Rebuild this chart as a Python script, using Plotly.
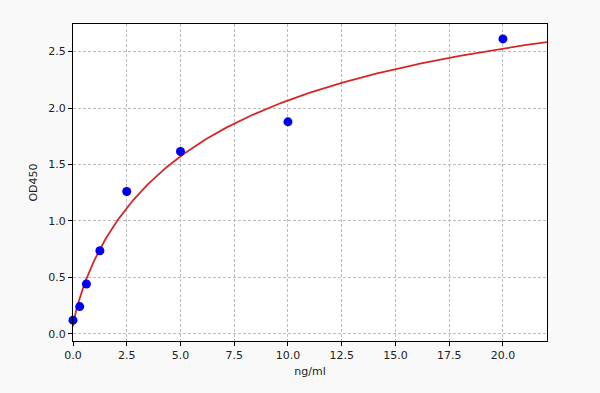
import numpy as np
import plotly.graph_objects as go

conc = [0.0, 0.3125, 0.625, 1.25, 2.5, 5.0, 10.0, 20.0]
od450 = [0.12, 0.24, 0.44, 0.735, 1.26, 1.615, 1.878, 2.613]
x_ticks = [0.0, 2.5, 5.0, 7.5, 10.0, 12.5, 15.0, 17.5, 20.0]
x_tick_labels = ["0.0", "2.5", "5.0", "7.5", "10.0", "12.5", "15.0", "17.5", "20.0"]
y_ticks = [0.0, 0.5, 1.0, 1.5, 2.0, 2.5]
y_tick_labels = ["0.0", "0.5", "1.0", "1.5", "2.0", "2.5"]

# 4-parameter logistic fit (grid search over b, c; linear LSQ for a, d)
xd = np.array(conc)
yd = np.array(od450)
best = None
for b in np.linspace(0.4, 1.6, 121):
    for c in np.linspace(0.5, 30, 296):
        g = xd**b / (c**b + xd**b)
        A = np.vstack([np.ones_like(g), g]).T
        coef, *_ = np.linalg.lstsq(A, yd, rcond=None)
        r = np.sum((A @ coef - yd) ** 2)
        if best is None or r < best[0]:
            best = (r, b, c, coef)
_, b_fit, c_fit, (a_fit, k_fit) = best
xc = np.linspace(0, 22.05, 300)
yc = a_fit + k_fit * xc**b_fit / (c_fit**b_fit + xc**b_fit)

fig = go.Figure()
fig.add_trace(go.Scatter(x=xc, y=yc, mode="lines",
                         line=dict(color="#d62728", width=1.8), showlegend=False))
fig.add_trace(go.Scatter(x=conc, y=od450, mode="markers",
                         marker=dict(color="#0000f0", size=9), showlegend=False,
                         cliponaxis=False))

axis_common = dict(showline=True, linecolor="black", linewidth=1.2, mirror=True,
                   ticks="outside", ticklen=4, tickcolor="black",
                   showgrid=True, gridcolor="#bdbdbd", griddash="3px,2px", gridwidth=1,
                   zeroline=False, tickfont=dict(family="DejaVu Sans", size=11, color="#222"))
fig.update_xaxes(range=[0, 22.05], tickvals=x_ticks, ticktext=x_tick_labels,
                 title=dict(text="ng/ml", font=dict(family="DejaVu Sans", size=11, color="#222"),
                            standoff=6), **axis_common)
fig.update_yaxes(range=[-0.065, 2.745], tickvals=y_ticks, ticktext=y_tick_labels,
                 title=dict(text="OD450", font=dict(family="DejaVu Sans", size=11, color="#222"),
                            standoff=8), **axis_common)
fig.update_layout(width=600, height=393, margin=dict(l=73, r=53, t=24, b=52),
                  paper_bgcolor="#f9f9f9", plot_bgcolor="white")
fig.write_html("out.html", config={"displayModeBar": False},
               post_script="document.body.style.margin='0';document.body.style.overflow='hidden';")
